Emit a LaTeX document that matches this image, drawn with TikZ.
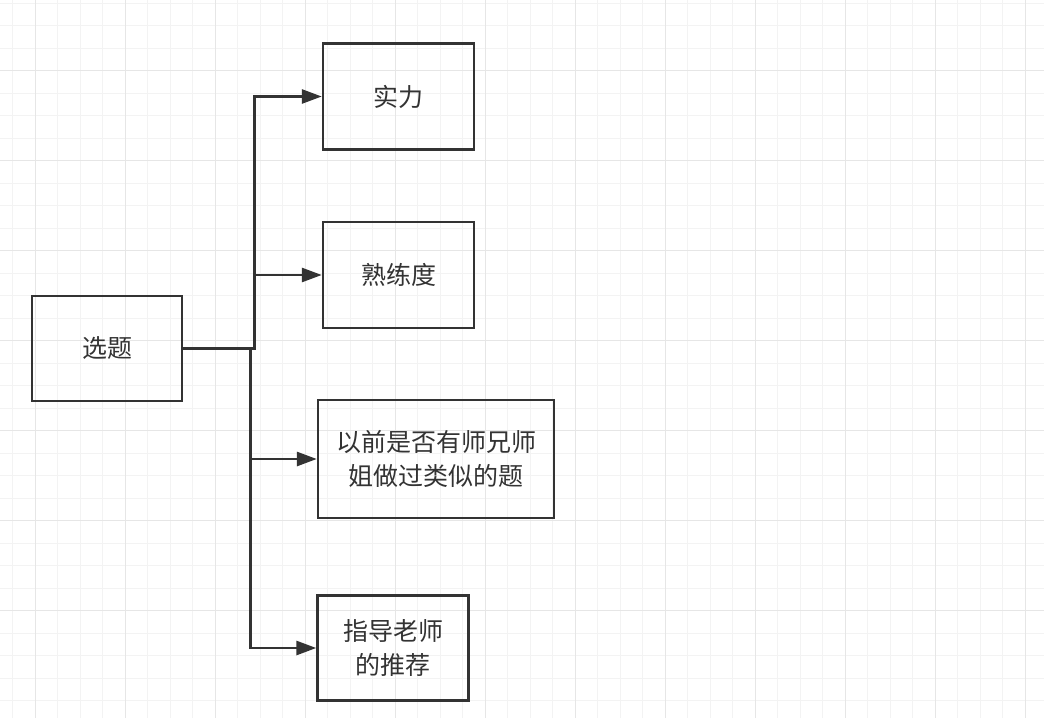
\documentclass[tikz,border=0pt]{standalone}
\usepackage{fontspec}
\usepackage{tikz}
\usetikzlibrary{arrows.meta}
\newfontfamily\cjk{Noto Sans CJK SC}
\definecolor{linegray}{HTML}{333333}
\definecolor{gridlight}{HTML}{F3F3F3}
\definecolor{griddark}{HTML}{E6E6E6}

\begin{document}
\begin{tikzpicture}[x=1pt, y=-1pt,
    box/.style={draw=linegray, line width=2.4pt, align=center, text=linegray,
      font=\cjk\fontsize{25}{34}\selectfont, inner sep=0pt},
    link/.style={draw=linegray, line width=2.8pt,
      -{Triangle[length=20pt, width=14pt]}}]
      \fill[white] (0,0) rectangle (1044,718);
      \useasboundingbox (0,0) rectangle (1044,718);
      % grid
      \foreach \k in {-1,...,45}
        \draw[gridlight, line width=1pt] ({35+22.5*\k},0) -- ({35+22.5*\k},718);
      \foreach \k in {-3,...,29}
        \draw[gridlight, line width=1pt] (0,{70.5+22.5*\k}) -- (1044,{70.5+22.5*\k});
      \foreach \k in {0,...,11}
        \draw[griddark, line width=1pt] ({35+90*\k},0) -- ({35+90*\k},718);
      \foreach \k in {0,...,7}
        \draw[griddark, line width=1pt] (0,{-19.5+90*\k}) -- (1044,{-19.5+90*\k});

      \node[box, minimum width=150pt, minimum height=105pt] (xt) at (107,348.5)
        {选题};
      \node[box, minimum width=151pt, minimum height=106pt] (sl) at (398.5,96.5)
        {实力};
      \node[box, minimum width=151pt, minimum height=106pt] (sld) at (398.5,275)
        {熟练度};
      \node[box, minimum width=236pt, minimum height=118pt] (yq) at (436,459)
        {以前是否有师兄师\\姐做过类似的题};
      \node[box, minimum width=151pt, minimum height=105pt] (zd) at (393,648)
        {指导老师\\的推荐};

      \draw[link] (xt.east) -- ++(71,0) |- (sl.west);
      \draw[link] (xt.east) -- ++(71,0) |- (sld.west);
      \draw[link] (xt.east) -- ++(67,0) |- (yq.west);
      \draw[link] (xt.east) -- ++(67,0) |- (zd.west);
    \end{tikzpicture}
\end{document}
